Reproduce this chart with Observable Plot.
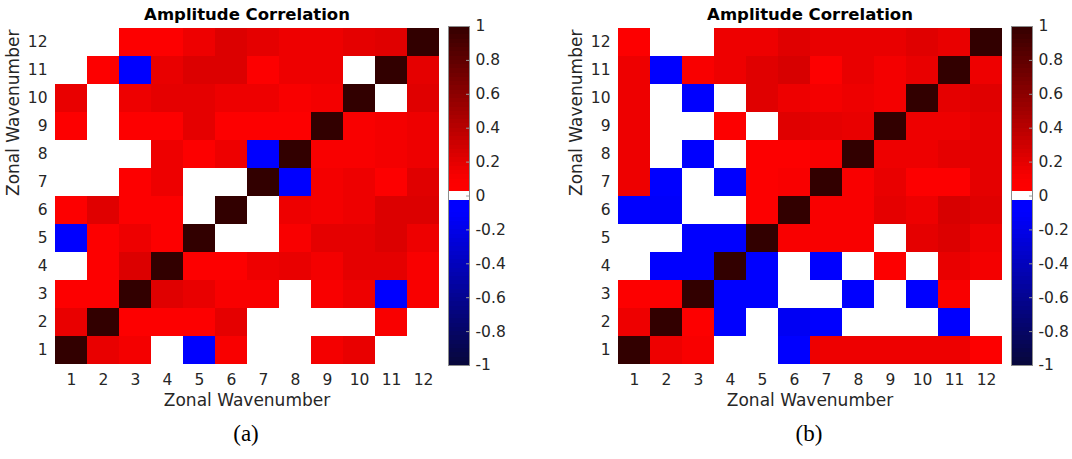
<!DOCTYPE html>
<html>
<head>
<meta charset="utf-8">
<script src="https://cdn.jsdelivr.net/npm/d3@7"></script>
<script src="https://cdn.jsdelivr.net/npm/@observablehq/plot@0.6"></script>
<style>
  html, body { margin: 0; padding: 0; background: #fff; }
  #root { position: relative; width: 1072px; height: 459px; background: #fff; overflow: hidden; }
  #root > div { position: absolute; }
  .cap { font-family: "Liberation Serif", "DejaVu Serif", serif; font-size: 23px; color: #000; transform: translateX(-50%); }
</style>
</head>
<body>
<div id="root"></div>
<script>
// Wavenumbers (tick labels)
const wavenumbers = [1, 2, 3, 4, 5, 6, 7, 8, 9, 10, 11, 12];
// Colorbar tick values
const colorbarTicks = [-1, -0.8, -0.6, -0.4, -0.2, 0, 0.2, 0.4, 0.6, 0.8, 1];
const titleText = "Amplitude Correlation";
const axisLabel = "Zonal Wavenumber";
const captions = ["(a)", "(b)"];

// Panel (a): rows are y = 1..12, columns x = 1..12
const corrA = [
  [1, .18, .13, 0, -.08, .11, 0, 0, .13, .18, 0, 0],
  [.18, 1, .07, .07, .07, .2, 0, 0, 0, 0, .11, 0],
  [.07, .07, 1, .22, .18, .11, .11, 0, .11, .16, -.08, .11],
  [0, .07, .24, 1, .07, .07, .16, .18, .13, .2, .2, .11],
  [-.08, .07, .16, .07, 1, 0, 0, .11, .2, .2, .24, .16],
  [.07, .22, .07, .07, 0, 1, 0, .16, .13, .16, .24, .24],
  [0, 0, .07, .16, 0, 0, 1, -.08, .13, .16, .07, .22],
  [0, 0, 0, .16, .07, .16, -.08, 1, .11, .11, .13, .16],
  [.07, 0, .07, .07, .2, .07, .07, .07, 1, .11, .13, .16],
  [.18, 0, .16, .2, .2, .16, .16, .11, .13, 1, 0, .22],
  [0, .07, -.08, .18, .24, .24, .07, .16, .16, 0, 1, .2],
  [0, 0, .07, .07, .16, .24, .2, .16, .16, .2, .22, 1]
];

// Panel (b): rows are y = 1..12, columns x = 1..12
const corrB = [
  [1, .16, .11, 0, 0, -.08, .16, .16, .16, .16, .16, .07],
  [.16, 1, .07, -.08, 0, -.15, -.08, 0, 0, 0, -.08, 0],
  [.07, .07, 1, -.08, -.08, 0, 0, -.08, 0, -.08, .11, 0],
  [0, -.08, -.08, 1, -.08, 0, -.08, 0, .07, 0, .18, .13],
  [0, 0, -.08, -.08, 1, .11, .11, .11, 0, .2, .24, .16],
  [-.08, -.12, 0, 0, .07, 1, .11, .11, .2, .16, .26, .22],
  [.16, -.08, 0, -.08, .07, .11, 1, .11, .18, .07, .07, .2],
  [.16, 0, -.08, 0, .07, .07, .11, 1, .16, .16, .2, .2],
  [.16, 0, 0, .07, 0, .22, .2, .18, 1, .16, .16, .2],
  [.16, 0, -.08, 0, .22, .16, .13, .16, .13, 1, .2, .22],
  [.16, -.08, .11, .16, .22, .26, .07, .18, .13, .18, 1, .16],
  [.07, 0, 0, .16, .16, .22, .18, .18, .18, .22, .18, 1]
];

const colorScale = {
  type: "linear",
  domain: [-1, -0.1, -0.025, -0.0249, 0.0249, 0.025, 0.1, 1],
  range: ["#07073a", "#0000ff", "#0000ff", "#ffffff", "#ffffff", "#ff0000", "#fb0000", "#320000"],
  interpolate: "rgb",
  clamp: true
};

const font = "'DejaVu Sans', sans-serif";
const fmt = d => { const s = String(+d.toFixed(1)); return s === "-0" ? "0" : s; };

function heatmap(matrix) {
  const cells = [];
  matrix.forEach((row, r) => row.forEach((v, c) => cells.push({x: wavenumbers[c], y: wavenumbers[r], v})));
  return Plot.plot({
    width: 440, height: 410,
    marginLeft: 54, marginRight: 1, marginTop: 27, marginBottom: 46,
    style: {fontFamily: font, fontSize: "16px", color: "#262626", background: "transparent", overflow: "visible"},
    x: {type: "band", domain: wavenumbers, padding: 0, label: null},
    y: {type: "band", domain: wavenumbers.slice().reverse(), padding: 0, label: null},
    color: colorScale,
    marks: [
      Plot.cell(cells, {x: "x", y: "y", fill: "v", inset: 0, shapeRendering: "crispEdges"}),
      Plot.axisX({tickSize: 0, tickPadding: 9, fontSize: 15.5}),
      Plot.axisY({tickSize: 0, tickPadding: 7, fontSize: 15.5}),
      Plot.text([titleText], {frameAnchor: "top", dy: -19, fontWeight: "bold", fontSize: 16.5, fill: "#000"}),
      Plot.text([axisLabel], {frameAnchor: "bottom", dy: 41, fontSize: 17, fill: "#262626"}),
      Plot.text([axisLabel], {frameAnchor: "left", rotate: -90, dx: -41, fontSize: 17, fill: "#262626"})
    ]
  });
}

function colorbar() {
  const step = 0.025;
  const levels = d3.range(80).map(i => ({y1: -1 + i * step, y2: -1 + (i + 1) * step, v: -1 + (i + 0.5) * step}));
  return Plot.plot({
    width: 69, height: 410,
    marginLeft: 8, marginRight: 40, marginTop: 26, marginBottom: 45,
    style: {fontFamily: font, fontSize: "15px", color: "#262626", background: "transparent", overflow: "visible"},
    x: {domain: [0, 1], axis: null},
    y: {domain: [-1, 1], axis: null},
    color: colorScale,
    marks: [
      Plot.rect(levels, {x1: 0, x2: 1, y1: "y1", y2: "y2", fill: "v", inset: 0, shapeRendering: "crispEdges"}),
      Plot.ruleY(colorbarTicks, {x1: 0.86, x2: 1, stroke: "#9a9a9a"}),
      Plot.frame({stroke: "#8c8c8c"}),
      Plot.axisY(colorbarTicks, {anchor: "right", tickSize: 0, tickPadding: 6, tickFormat: fmt, fontSize: 15.5, textAnchor: "start"})
    ]
  });
}

const root = document.getElementById("root");
function place(el, left, top) {
  const d = document.createElement("div");
  d.style.left = left + "px"; d.style.top = top + "px";
  d.appendChild(el);
  root.appendChild(d);
  return d;
}
place(heatmap(corrA), 0, 0);
place(colorbar(), 440, 0);
place(heatmap(corrB), 563, 0);
place(colorbar(), 1003, 0);

[[captions[0], 246], [captions[1], 809]].forEach(([t, x]) => {
  const d = document.createElement("div");
  d.className = "cap";
  d.textContent = t;
  d.style.left = x + "px";
  d.style.top = "421px";
  root.appendChild(d);
});
</script>
</body>
</html>
